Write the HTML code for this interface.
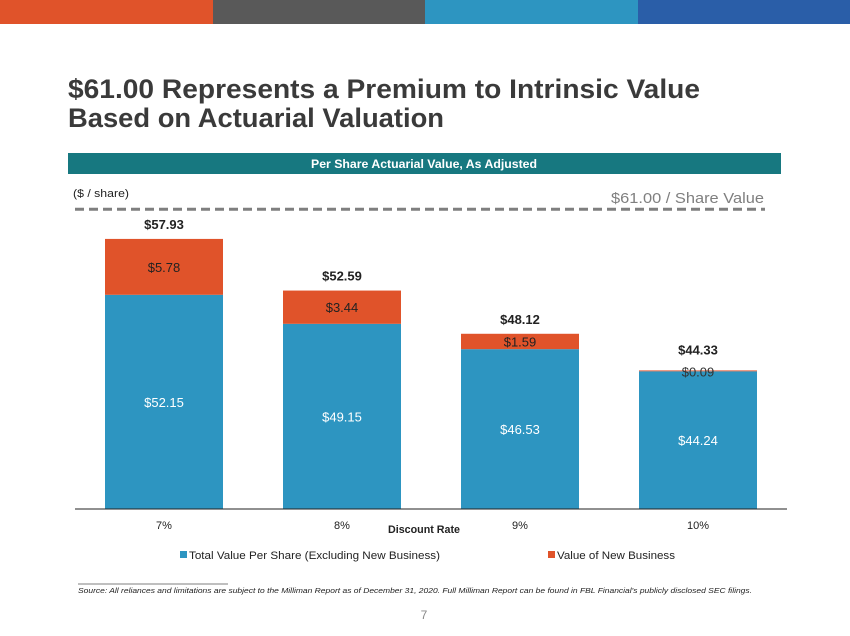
<!DOCTYPE html>
<html><head><meta charset="utf-8"><style>
html,body{margin:0;padding:0;background:#fff;}
svg{display:block;font-family:"Liberation Sans",sans-serif;}
</style></head><body>
<svg id="c" width="850" height="636" viewBox="0 0 850 636">
<rect x="0" y="0" width="213" height="24" fill="#e0532a"/>
<rect x="213" y="0" width="212" height="24" fill="#595959"/>
<rect x="425" y="0" width="213" height="24" fill="#2d95c1"/>
<rect x="638" y="0" width="212" height="24" fill="#2a5ea8"/>
<text x="68" y="98" font-size="27" font-weight="bold" fill="#3a3a3a" textLength="632" lengthAdjust="spacingAndGlyphs">$61.00 Represents a Premium to Intrinsic Value</text>
<text x="68" y="127" font-size="27" font-weight="bold" fill="#3a3a3a" textLength="376" lengthAdjust="spacingAndGlyphs">Based on Actuarial Valuation</text>
<rect x="68" y="153" width="713" height="21" fill="#177880"/>
<text x="424" y="168" font-size="12" font-weight="bold" fill="#fff" text-anchor="middle" textLength="226" lengthAdjust="spacingAndGlyphs">Per Share Actuarial Value, As Adjusted</text>
<text x="73" y="197" font-size="11" fill="#222" textLength="56" lengthAdjust="spacingAndGlyphs">($ / share)</text>
<text x="764" y="203" font-size="15" fill="#7f7f7f" text-anchor="end" textLength="153" lengthAdjust="spacingAndGlyphs">$61.00 / Share Value</text>
<g id="plot"></g>
<line x1="75" y1="509" x2="787" y2="509" stroke="#222" stroke-width="1"/>
<text x="424" y="533" font-size="11" font-weight="bold" fill="#222" text-anchor="middle" textLength="72" lengthAdjust="spacingAndGlyphs">Discount Rate</text>
<rect x="180" y="551" width="7" height="7" fill="#2d95c1"/>
<text x="189" y="559" font-size="11" fill="#222" textLength="251" lengthAdjust="spacingAndGlyphs">Total Value Per Share (Excluding New Business)</text>
<rect x="548" y="551" width="7" height="7" fill="#e0532a"/>
<text x="557" y="559" font-size="11" fill="#222" textLength="118" lengthAdjust="spacingAndGlyphs">Value of New Business</text>
<line x1="78" y1="584" x2="228" y2="584" stroke="#555" stroke-width="0.8"/>
<text x="78" y="593" font-size="7.5" font-style="italic" fill="#222" textLength="674" lengthAdjust="spacingAndGlyphs">Source: All reliances and limitations are subject to the Milliman Report as of December 31, 2020. Full Milliman Report can be found in FBL Financial's publicly disclosed SEC filings.</text>
<text x="424" y="619" font-size="12" fill="#888" text-anchor="middle">7</text>
</svg>
<script>
const categories = ["7%", "8%", "9%", "10%"];
const baseValues = [52.15, 49.15, 46.53, 44.24];
const newBusinessValues = [5.78, 3.44, 1.59, 0.09];
const totals = [57.93, 52.59, 48.12, 44.33];
const refValue = 61.00;

const NS = "http://www.w3.org/2000/svg";
const g = document.getElementById("plot");
const yMin = 30, y0 = 509, pxPer = 9.67;
function y(v){ return y0 - (v - yMin) * pxPer; }
const plotLeft = 75, plotRight = 787, bw = 118;
const step = (plotRight - plotLeft) / categories.length;
function xc(i){ return plotLeft + step * (i + 0.5); }
function mk(tag, attrs){ const e = document.createElementNS(NS, tag); for (const k in attrs) e.setAttribute(k, attrs[k]); g.appendChild(e); return e; }
function fmt(v){ return "$" + v.toFixed(2); }

const ref = mk("line", {x1: 75, x2: 765, y1: y(refValue), y2: y(refValue), stroke: "#7f7f7f", "stroke-width": 3, "stroke-dasharray": "9,5"});



categories.forEach((c, i) => {
  const cx = xc(i), x = cx - bw / 2;
  const b = mk("rect", {x: x, y: y(baseValues[i]), width: bw, height: y0 - y(baseValues[i]), fill: "#2d95c1"});
  
  
  const top = baseValues[i] + newBusinessValues[i];
  const o = mk("rect", {x: x, y: y(top), width: bw, height: y(baseValues[i]) - y(top), fill: "#e0532a"});
  
  
  const bl = mk("text", {x: cx, y: (y(baseValues[i]) + y0) / 2 + 5, "font-size": 13, fill: "#fff", "text-anchor": "middle"});
  bl.textContent = fmt(baseValues[i]);
  
  
  const oh = y(baseValues[i]) - y(top);
  const ol = mk("text", {x: cx, y: oh > 14 ? (y(top) + y(baseValues[i])) / 2 + 5 : y(top) + 6, "font-size": 13, fill: oh > 14 ? "#222" : "#333", "text-anchor": "middle"});
  ol.textContent = fmt(newBusinessValues[i]);
  
  
  const tl = mk("text", {x: cx, y: y(totals[i]) - (oh > 14 ? 10 : 16), "font-size": 13, "font-weight": "bold", fill: "#222", "text-anchor": "middle"});
  tl.textContent = fmt(totals[i]);
  
  
  const xl = mk("text", {x: cx, y: 529, "font-size": 11, fill: "#222", "text-anchor": "middle"});
  xl.textContent = c;
  
  
});
</script>
</body></html>
